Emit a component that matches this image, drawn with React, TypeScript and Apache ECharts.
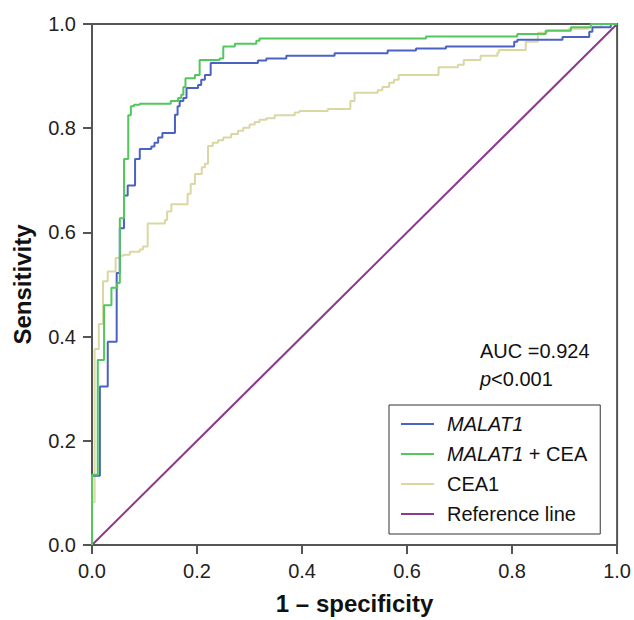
import React, { useEffect, useRef } from "react";
import * as echarts from "echarts";

const xTicks = [0, 0.2, 0.4, 0.6, 0.8, 1.0];

const malat1: [number, number][] = [
  [0, 0], [0, 0.133], [0.015, 0.133], [0.015, 0.304], [0.03, 0.304], [0.03, 0.39], [0.047, 0.39],
  [0.047, 0.522], [0.053, 0.522], [0.053, 0.608], [0.061, 0.608], [0.061, 0.671], [0.068, 0.671],
  [0.068, 0.69], [0.082, 0.69], [0.082, 0.741], [0.091, 0.741], [0.091, 0.76], [0.113, 0.76],
  [0.113, 0.765], [0.119, 0.765], [0.119, 0.772], [0.126, 0.772], [0.126, 0.782], [0.134, 0.782],
  [0.134, 0.791], [0.158, 0.791], [0.158, 0.826], [0.163, 0.826], [0.163, 0.842], [0.167, 0.842],
  [0.167, 0.852], [0.174, 0.852], [0.174, 0.858], [0.18, 0.858], [0.18, 0.877], [0.202, 0.877],
  [0.202, 0.883], [0.208, 0.883], [0.208, 0.893], [0.215, 0.893], [0.215, 0.902], [0.226, 0.902],
  [0.226, 0.925], [0.316, 0.925], [0.316, 0.93], [0.332, 0.93], [0.332, 0.934], [0.37, 0.934],
  [0.37, 0.939], [0.462, 0.939], [0.462, 0.944], [0.563, 0.944], [0.563, 0.949], [0.617, 0.949],
  [0.617, 0.953], [0.674, 0.953], [0.674, 0.957], [0.804, 0.957], [0.804, 0.966], [0.81, 0.966],
  [0.81, 0.97], [0.896, 0.97], [0.896, 0.975], [0.947, 0.975], [0.947, 0.985], [0.953, 0.985],
  [0.953, 0.994], [0.988, 0.994], [0.988, 1], [1, 1],
];

const malat1Cea: [number, number][] = [
  [0, 0], [0, 0.135], [0.011, 0.135], [0.011, 0.355], [0.023, 0.355], [0.023, 0.46], [0.037, 0.46],
  [0.037, 0.494], [0.048, 0.494], [0.048, 0.503], [0.053, 0.503], [0.053, 0.627], [0.061, 0.627],
  [0.061, 0.741], [0.069, 0.741], [0.069, 0.825], [0.074, 0.825], [0.074, 0.842], [0.08, 0.842],
  [0.08, 0.845], [0.091, 0.845], [0.091, 0.847], [0.15, 0.847], [0.15, 0.852], [0.164, 0.852],
  [0.164, 0.858], [0.17, 0.858], [0.17, 0.864], [0.174, 0.864], [0.174, 0.879], [0.178, 0.879],
  [0.178, 0.896], [0.196, 0.896], [0.196, 0.902], [0.205, 0.902], [0.205, 0.931], [0.243, 0.931],
  [0.243, 0.934], [0.25, 0.934], [0.25, 0.957], [0.272, 0.957], [0.272, 0.962], [0.313, 0.962],
  [0.313, 0.968], [0.319, 0.968], [0.319, 0.972], [0.636, 0.972], [0.636, 0.976], [0.81, 0.976],
  [0.81, 0.981], [0.864, 0.981], [0.864, 0.987], [0.912, 0.987], [0.912, 0.994], [0.95, 0.994],
  [0.95, 1], [1, 1],
];

const cea1: [number, number][] = [
  [0, 0], [0, 0.082], [0.005, 0.082], [0.005, 0.376], [0.013, 0.376], [0.013, 0.424], [0.021, 0.424],
  [0.021, 0.506], [0.03, 0.506], [0.03, 0.525], [0.045, 0.525], [0.045, 0.551], [0.053, 0.551],
  [0.053, 0.555], [0.06, 0.555], [0.06, 0.557], [0.072, 0.557], [0.072, 0.563], [0.091, 0.563],
  [0.091, 0.567], [0.097, 0.567], [0.097, 0.573], [0.106, 0.573], [0.106, 0.617], [0.139, 0.617],
  [0.139, 0.624], [0.143, 0.624], [0.143, 0.64], [0.151, 0.64], [0.151, 0.654], [0.182, 0.654],
  [0.182, 0.674], [0.188, 0.674], [0.188, 0.693], [0.196, 0.693], [0.196, 0.712], [0.209, 0.712],
  [0.209, 0.725], [0.215, 0.725], [0.215, 0.732], [0.221, 0.732], [0.221, 0.766], [0.23, 0.766],
  [0.23, 0.772], [0.24, 0.772], [0.24, 0.777], [0.25, 0.777], [0.25, 0.782], [0.265, 0.782],
  [0.265, 0.789], [0.278, 0.789], [0.278, 0.795], [0.288, 0.795], [0.288, 0.801], [0.3, 0.801],
  [0.3, 0.807], [0.31, 0.807], [0.31, 0.812], [0.319, 0.812], [0.319, 0.816], [0.332, 0.816],
  [0.332, 0.819], [0.348, 0.819], [0.348, 0.825], [0.386, 0.825], [0.386, 0.83], [0.395, 0.83],
  [0.395, 0.833], [0.449, 0.833], [0.449, 0.837], [0.492, 0.837], [0.492, 0.852], [0.5, 0.852],
  [0.5, 0.868], [0.544, 0.868], [0.544, 0.873], [0.553, 0.873], [0.553, 0.879], [0.566, 0.879],
  [0.566, 0.887], [0.575, 0.887], [0.575, 0.893], [0.584, 0.893], [0.584, 0.902], [0.66, 0.902],
  [0.66, 0.917], [0.697, 0.917], [0.697, 0.922], [0.708, 0.922], [0.708, 0.931], [0.74, 0.931],
  [0.74, 0.939], [0.772, 0.939], [0.772, 0.945], [0.775, 0.945], [0.775, 0.95], [0.826, 0.95],
  [0.826, 0.966], [0.849, 0.966], [0.849, 0.983], [0.867, 0.983], [0.867, 0.988], [0.908, 0.988],
  [0.908, 0.991], [0.946, 0.991], [0.946, 0.994], [0.97, 0.994], [0.97, 1], [1, 1],
];

const referenceLine: [number, number][] = [[0, 0], [1, 1]];

const legendNames = ["MALAT1", "MALAT1 + CEA", "CEA1", "Reference line"];
const aucText = "AUC =0.924";
const pText = "<0.001";

const FONT = "'Liberation Sans', Arial, Helvetica, sans-serif";

export default function App() {
  const ref = useRef<HTMLDivElement>(null);
  useEffect(() => {
    document.body.style.margin = "0";
    document.body.style.overflow = "hidden";
    if (!ref.current) return;
    const chart = echarts.init(ref.current, undefined, { renderer: "svg" });
    const lineSeries = (name: string, data: [number, number][], color: string, z: number) => ({
      name,
      type: "line",
      data,
      showSymbol: false,
      symbol: "none",
      smooth: false,
      z,
      lineStyle: { color, width: 2 },
      itemStyle: { color },
    });
    chart.setOption({
      animation: false,
      grid: {
        left: 92,
        right: 15,
        top: 24,
        bottom: 72,
        show: true,
        borderColor: "#555",
        borderWidth: 2,
        backgroundColor: "transparent",
      },
      xAxis: {
        type: "value",
        min: 0,
        max: 1,
        interval: 0.2,
        name: "1 – specificity",
        nameLocation: "middle",
        nameGap: 46,
        nameTextStyle: { fontFamily: FONT, fontSize: 24, fontWeight: "bold", color: "#111" },
        axisLine: { show: true, lineStyle: { color: "#555", width: 2 } },
        axisTick: { show: true, inside: false, length: 9, lineStyle: { color: "#555", width: 2 } },
        axisLabel: {
          margin: 16,
          fontFamily: FONT,
          fontSize: 20,
          color: "#222",
          formatter: (v: number) => v.toFixed(1),
        },
        splitLine: { show: false },
      },
      yAxis: {
        type: "value",
        min: 0,
        max: 1,
        interval: 0.2,
        name: "Sensitivity",
        nameLocation: "middle",
        nameGap: 58,
        nameTextStyle: { fontFamily: FONT, fontSize: 24, fontWeight: "bold", color: "#111" },
        axisLine: { show: true, lineStyle: { color: "#555", width: 2 } },
        axisTick: { show: true, inside: false, length: 9, lineStyle: { color: "#555", width: 2 } },
        axisLabel: {
          margin: 16,
          fontFamily: FONT,
          fontSize: 20,
          color: "#222",
          formatter: (v: number) => v.toFixed(1),
        },
        splitLine: { show: false },
      },
      legend: {
        data: legendNames,
        orient: "vertical",
        left: 389,
        top: 405,
        padding: [9, 13, 10, 12],
        borderColor: "#333",
        borderWidth: 1,
        itemGap: 10,
        itemWidth: 33,
        itemHeight: 2,
        icon: "rect",
        selectedMode: false,
        formatter: (name: string) => {
          if (name === "MALAT1") return "{i|MALAT1}";
          if (name === "MALAT1 + CEA") return "{i|MALAT1}{n| + CEA}";
          return "{n|" + name + "}";
        },
        textStyle: {
          fontFamily: FONT,
          fontSize: 20,
          color: "#111",
          lineHeight: 20,
          padding: [0, 0, 0, 8],
          rich: {
            i: { fontFamily: FONT, fontSize: 20, fontStyle: "italic", color: "#111", lineHeight: 20 },
            n: { fontFamily: FONT, fontSize: 20, color: "#111", lineHeight: 20 },
          },
        },
      },
      graphic: [
        {
          type: "text",
          left: 480,
          top: 341,
          style: { text: aucText, fontFamily: FONT, fontSize: 20, fill: "#111" },
        },
        {
          type: "text",
          left: 480,
          top: 369,
          style: {
            text: "{i|p}{n|" + pText + "}",
            fontFamily: FONT,
            fontSize: 20,
            fill: "#111",
            rich: {
              i: { fontFamily: FONT, fontSize: 20, fontStyle: "italic", fill: "#111" },
              n: { fontFamily: FONT, fontSize: 20, fill: "#111" },
            },
          },
        },
      ],
      series: [
        lineSeries("Reference line", referenceLine, "#8b3a8c", 1),
        lineSeries("CEA1", cea1, "#dbd7a2", 2),
        lineSeries("MALAT1", malat1, "#4a63c3", 3),
        lineSeries("MALAT1 + CEA", malat1Cea, "#52c75c", 4),
      ],
    });
    return () => chart.dispose();
  }, []);
  return <div ref={ref} style={{ width: 634, height: 620 }} />;
}
